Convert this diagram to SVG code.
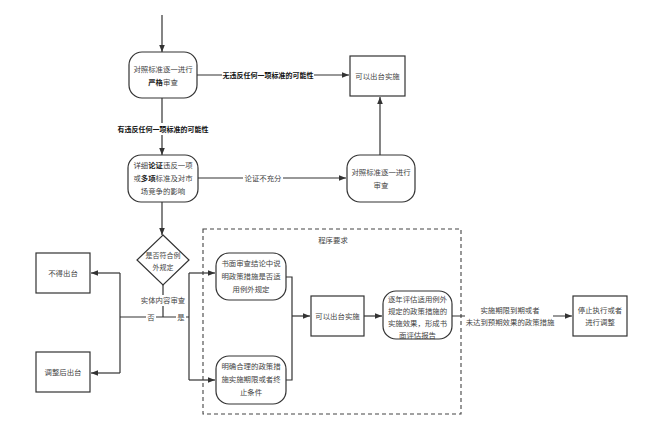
<svg xmlns="http://www.w3.org/2000/svg" width="660" height="432" viewBox="0 0 660 432">
<style>
.n{fill:#fff;stroke:#333;stroke-width:1.2}
.t{font-family:"Noto Sans CJK SC","Liberation Sans",sans-serif;font-size:7.4px;fill:#444;text-anchor:middle}
.s{font-size:7px}
.b{font-weight:bold;fill:#222}
.l{font-family:"Noto Sans CJK SC","Liberation Sans",sans-serif;font-size:7px;fill:#111;text-anchor:middle;font-weight:bold}
.c{fill:none;stroke:#333;stroke-width:1.2}
.d{fill:none;stroke:#444;stroke-width:1.1;stroke-dasharray:4,3}
.bg{fill:#fff}
</style>
<defs>
<marker id="a" viewBox="0 0 10 10" refX="10" refY="5" markerWidth="7" markerHeight="7" orient="auto" markerUnits="userSpaceOnUse"><path d="M0,1 L10,5 L0,9 z" fill="#333"/></marker>
</defs>
<rect width="660" height="432" fill="#fff"/>
<g id="procbox"><rect class="d" x="203" y="229" width="258" height="185"/><text class="t" x="333" y="243">程序要求</text></g>
<g id="connectors">
<path class="c" d="M162,15 V52" marker-end="url(#a)"/>
<path class="c" d="M197,75 H349" marker-end="url(#a)"/>
<path class="c" d="M162,98 V155" marker-end="url(#a)"/>
<path class="c" d="M198,178 H346" marker-end="url(#a)"/>
<path class="c" d="M380,155 V97" marker-end="url(#a)"/>
<path class="c" d="M162,202 V235" marker-end="url(#a)"/>
<path class="c" d="M163,285 V317"/>
<path class="c" d="M120,317 H189"/>
<path class="c" d="M120,273 V373"/>
<path class="c" d="M120,273 H91" marker-end="url(#a)"/>
<path class="c" d="M120,373 H91" marker-end="url(#a)"/>
<path class="c" d="M189,273 V380"/>
<path class="c" d="M189,273 H215" marker-end="url(#a)"/>
<path class="c" d="M189,380 H215" marker-end="url(#a)"/>
<path class="c" d="M286,277 H292 V380 H286"/>
<path class="c" d="M292,316 H310" marker-end="url(#a)"/>
<path class="c" d="M364,316 H382" marker-end="url(#a)"/>
<path class="c" d="M452,316 H572" marker-end="url(#a)"/>
<rect class="bg" x="222" y="69" width="92" height="12"/>
<text class="l" x="268" y="78">无违反任何一项标准的可能性</text>
<rect class="bg" x="117" y="123" width="92" height="12"/>
<text class="l" x="163" y="132">有违反任何一项标准的可能性</text>
<rect class="bg" x="243" y="172" width="40" height="12"/>
<text class="t" x="263" y="181">论证不充分</text>
<rect class="bg" x="140" y="295" width="46" height="11"/>
<text class="t" x="163" y="303">实体内容审查</text>
<rect class="bg" x="146" y="312" width="10" height="11"/>
<text class="t" x="151" y="320">否</text>
<rect class="bg" x="176" y="312" width="10" height="11"/>
<text class="t" x="181" y="320">是</text>
<rect class="bg" x="465" y="305" width="88" height="22"/>
<text class="t" x="510" y="313">实施期限到期或者</text>
<text class="t" x="510" y="325">未达到预期效果的政策措施</text>
</g>
<g id="n1"><rect class="n" x="129" y="52" width="68" height="46" rx="13"/><text class="t" x="163" y="72">对照标准逐一进行</text><text class="t" x="163" y="85"><tspan class="b">严格</tspan>审查</text></g>
<g id="n2"><rect class="n" x="350" y="56" width="55" height="40"/><text class="t" x="377.5" y="78.5">可以出台实施</text></g>
<g id="n3"><rect class="n" x="128" y="155" width="70" height="47" rx="13"/><text class="t" x="163" y="168">详细<tspan class="b">论证</tspan>违反一项</text><text class="t" x="163" y="181">或<tspan class="b">多项</tspan>标准及对市</text><text class="t" x="163" y="194">场竞争的影响</text></g>
<g id="n4"><rect class="n" x="347" y="155" width="68" height="47" rx="13"/><text class="t" x="381" y="175">对照标准逐一进行</text><text class="t" x="381" y="188">审查</text></g>
<g id="n5"><path class="n" d="M163,235 L189,260 L163,285 L137,260 z"/><text class="t s" x="163" y="258">是否符合例</text><text class="t s" x="163" y="270">外规定</text></g>
<g id="n6"><rect class="n" x="36" y="253" width="54" height="40"/><text class="t" x="63" y="276">不得出台</text></g>
<g id="n7"><rect class="n" x="36" y="352" width="54" height="40"/><text class="t" x="63" y="375">调整后出台</text></g>
<g id="n8"><rect class="n" x="216" y="253" width="70" height="47" rx="13"/><text class="t" x="251" y="266">书面审查结论中说</text><text class="t" x="251" y="279">明政策措施是否适</text><text class="t" x="251" y="292">用例外规定</text></g>
<g id="n9"><rect class="n" x="216" y="356" width="70" height="48" rx="13"/><text class="t" x="251" y="369">明确合理的政策措</text><text class="t" x="251" y="382">施实施期限或者终</text><text class="t" x="251" y="395">止条件</text></g>
<g id="n10"><rect class="n" x="311" y="296" width="53" height="40"/><text class="t" x="337.5" y="318.5">可以出台实施</text></g>
<g id="n11"><rect class="n" x="383" y="291" width="69" height="48" rx="13"/><text class="t" x="417.5" y="302">逐年评估适用例外</text><text class="t" x="417.5" y="314">规定的政策措施的</text><text class="t" x="417.5" y="326">实施效果，形成书</text><text class="t" x="417.5" y="338">面评估报告</text></g>
<g id="n12"><rect class="n" x="573" y="296" width="54" height="40"/><text class="t" x="600" y="313">停止执行或者</text><text class="t" x="600" y="325">进行调整</text></g>
</svg>
